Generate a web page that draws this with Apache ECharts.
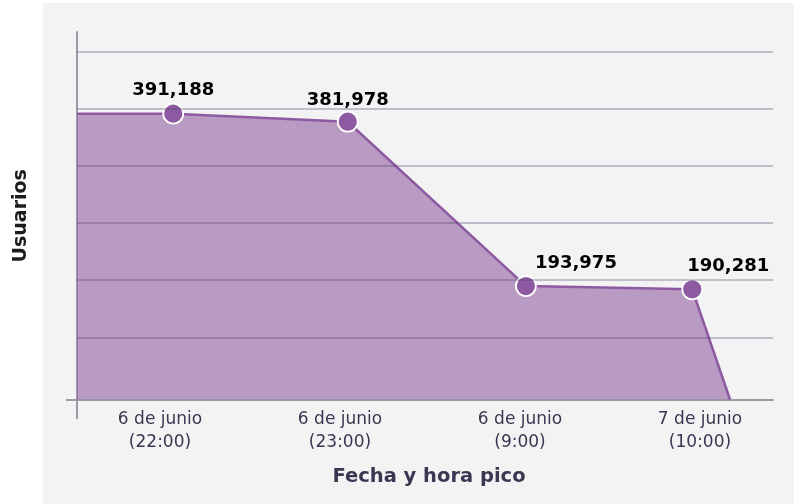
<!DOCTYPE html>
<html>
<head>
<meta charset="utf-8">
<title>Usuarios por fecha y hora pico</title>
<script src="https://cdn.jsdelivr.net/npm/echarts@6/dist/echarts.min.js"></script>
<style>
    html, body { margin: 0; padding: 0; background: #ffffff; }
    #chart { width: 794px; height: 504px; }
</style>
</head>
<body>
<div id="chart"></div>
<script>
// peak times (x labels)
var categories = ["6 de junio\n(22:00)", "6 de junio\n(23:00)", "6 de junio\n(9:00)", "7 de junio\n(10:00)"];
// users at each peak
var users = [391188, 381978, 193975, 190281];
// where each peak sits along the x axis, in category widths
var peakPos = [0.553, 1.556, 2.580, 3.536];
// the filled area starts at the left edge and drops to the base after the last peak
var areaStart = 0;
var areaEnd = 3.753;
// value range of the y axis and the values of the horizontal guide lines
var yMin = 64200;
var yMax = 484600;
var guideValues = [135300, 200900, 266400, 331600, 396500, 462100];

var purple = "#8d5aa1";
var axisGray = "#9c9aa8";
var textDark = "#3b3752";
// label shifts [dx, dy] for each peak
var labelShift = [[0, 0], [0, 2], [50, 0], [36, 0]];

function fmt(v)
{
    return v.toLocaleString("en-US");
}

function buildData(withLabels)
{
    var out = [{value: [areaStart, users[0]], symbol: "none", label: {show: false}}];
    users.forEach(function (v, i)
    {
        out.push({
            value: [peakPos[i], v],
            label: {show: withLabels, offset: labelShift[i]}
        });
    });
    out.push({value: [areaEnd, yMin], symbol: "none", label: {show: false}});
    return out;
}

var chart = echarts.init(document.getElementById("chart"), null, {renderer: "canvas"});

var option = {
    animation: false,
    backgroundColor: "#ffffff",
    textStyle: {fontFamily: "DejaVu Sans"},
    graphic: [
        {
            type: "rect",
            z: -10,
            silent: true,
            shape: {x: 43, y: 3, width: 751, height: 501},
            style: {fill: "#f3f3f3"}
        }
    ],
    grid: [
        {left: 77, right: 21, top: 32, bottom: 104.5},
        {left: 70, right: 4, top: 32, bottom: 104.5}
    ],
    xAxis: [
        {
            type: "value",
            gridIndex: 0,
            min: 0,
            max: 4,
            name: "Fecha y hora pico",
            nameLocation: "middle",
            nameGap: 67,
            nameTextStyle: {fontSize: 19.5, fontWeight: "bold", color: textDark, padding: [0, 0, 0, 8]},
            axisLine: {show: true, lineStyle: {color: axisGray, width: 2}},
            axisTick: {show: true, customValues: [0], length: 19.5, lineStyle: {color: axisGray, width: 2}},
            axisLabel: {show: false},
            splitLine: {show: false}
        },
        {
            type: "category",
            gridIndex: 1,
            data: categories,
            axisLine: {show: false},
            axisTick: {show: false},
            axisLabel: {margin: 8, fontSize: 17, lineHeight: 23.5, color: textDark},
            splitLine: {show: false}
        }
    ],
    yAxis: [
        {
            type: "value",
            gridIndex: 0,
            min: yMin,
            max: yMax,
            name: "Usuarios",
            nameLocation: "middle",
            nameRotate: 90,
            nameGap: 46,
            nameTextStyle: {fontSize: 19, fontWeight: "bold", color: "#1c1c1c"},
            axisLine: {show: true, lineStyle: {color: axisGray, width: 2}},
            axisTick: {show: true, customValues: [yMin], length: 11, lineStyle: {color: axisGray, width: 2}},
            axisLabel: {show: false},
            splitLine: {show: false}
        },
        {
            type: "value",
            gridIndex: 1,
            show: false
        }
    ],
    series: [
        {
            // filled area only
            type: "line",
            xAxisIndex: 0,
            yAxisIndex: 0,
            z: 2,
            data: buildData(false),
            symbol: "none",
            lineStyle: {width: 0},
            areaStyle: {color: purple, opacity: 0.58, origin: "start"}
        },
        {
            // horizontal guide lines, over the fill but under the line and dots
            type: "line",
            xAxisIndex: 0,
            yAxisIndex: 0,
            z: 3,
            data: [[areaStart, yMin]],
            symbol: "none",
            lineStyle: {opacity: 0},
            markLine: {
                silent: true,
                symbol: "none",
                label: {show: false},
                lineStyle: {type: "solid", color: "rgba(75,65,100,0.4)", width: 1.6},
                data: guideValues.map(function (v) { return {yAxis: v}; })
            }
        },
        {
            type: "line",
            xAxisIndex: 0,
            yAxisIndex: 0,
            z: 4,
            data: buildData(true),
            symbol: "circle",
            symbolSize: 20,
            lineStyle: {color: purple, width: 2.5},
            itemStyle: {color: purple, borderColor: "#ffffff", borderWidth: 1.8},
            label: {
                show: false,
                position: "top",
                distance: 3,
                fontSize: 18,
                fontWeight: "bold",
                color: "#000000",
                formatter: function (p) { return fmt(p.value[1]); }
            }
        }
    ]
};

chart.setOption(option);
</script>
</body>
</html>
